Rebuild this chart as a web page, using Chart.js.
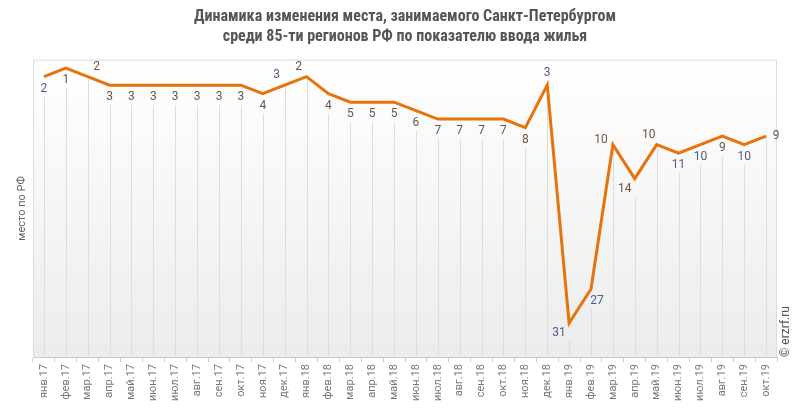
<!DOCTYPE html>
<html>
<head>
<meta charset="utf-8">
<script src="https://cdn.jsdelivr.net/npm/chart.js@4/dist/chart.umd.min.js"></script>
<style>
  html, body { margin: 0; padding: 0; background: #fff; }
  #wrap { width: 793px; height: 415px; position: relative; }
</style>
</head>
<body>
<div id="wrap"><canvas id="placeChart"></canvas></div>
<script>
// months, Jan 2017 - Oct 2019
var months = ["янв.17", "фев.17", "мар.17", "апр.17", "май.17", "июн.17", "июл.17", "авг.17", "сен.17", "окт.17", "ноя.17", "дек.17",
  "янв.18", "фев.18", "мар.18", "апр.18", "май.18", "июн.18", "июл.18", "авг.18", "сен.18", "окт.18", "ноя.18", "дек.18",
  "янв.19", "фев.19", "мар.19", "апр.19", "май.19", "июн.19", "июл.19", "авг.19", "сен.19", "окт.19"];

// place of St. Petersburg among 85 regions
var places = [2, 1, 2, 3, 3, 3, 3, 3, 3, 3, 4, 3,
  2, 4, 5, 5, 5, 6, 7, 7, 7, 7, 8, 3,
  31, 27, 10, 14, 10, 11, 10, 9, 10, 9];

var titleLines = ["Динамика изменения места, занимаемого Санкт-Петербургом", "среди 85-ти регионов РФ по показателю ввода жилья"];
var yTitle = "место по РФ";

// where each value label sits relative to its point (b = below, a = above, l/r = side)
var labelPos = ["b", "b", "ar", "b", "b", "b", "b", "b", "b", "b", "b", "al",
  "al", "b", "b", "b", "b", "b", "b", "b", "b", "b", "b", "a",
  "bl", "br", "l", "bl", "al", "b", "b", "b", "b", "r"];
var blueLabels = [0, 11, 23, 24, 25, 29, 30, 32];

var lineColor = "#e8720c";

// gradient background + frame of the plot area + y title
var plotBg = {
  id: "plotBg",
  beforeDraw: function (chart) {
    var a = chart.chartArea, ctx = chart.ctx;
    var g = ctx.createLinearGradient(0, a.top, 0, a.bottom);
    g.addColorStop(0, "#ffffff");
    g.addColorStop(1, "#ececec");
    ctx.save();
    ctx.fillStyle = g;
    ctx.fillRect(a.left, a.top, a.right - a.left, a.bottom - a.top);
    ctx.strokeStyle = "#dcdcdc";
    ctx.lineWidth = 1;
    ctx.strokeRect(a.left + 0.5, a.top + 0.5, a.right - a.left - 1, a.bottom - a.top);
    ctx.restore();

    ctx.save();
    ctx.translate(22, (a.top + a.bottom) / 2);
    ctx.rotate(-Math.PI / 2);
    ctx.font = "11px Roboto";
    ctx.fillStyle = "#666";
    ctx.textAlign = "center";
    ctx.textBaseline = "middle";
    ctx.fillText(yTitle, 0, 0);
    ctx.restore();
  }
};

function labelXY(p, pos) {
  var x = p.x, y = p.y;
  if (pos === "b") y += 12;
  if (pos === "a") y -= 12;
  if (pos === "ar") { x += 9; y -= 10; }
  if (pos === "al") { x -= 8; y -= 10; }
  if (pos === "bl") { x -= 10; y += 10; }
  if (pos === "br") { x += 6; y += 12; }
  if (pos === "l") { x -= 12; y -= 5; }
  if (pos === "r") { x += 10; }
  return { x: x, y: y };
}

// drop lines under the points
var dropLines = {
  id: "dropLines",
  beforeDatasetsDraw: function (chart) {
    var ctx = chart.ctx, a = chart.chartArea;
    var pts = chart.getDatasetMeta(0).data;
    ctx.save();
    ctx.strokeStyle = "#dddddd";
    ctx.lineWidth = 1;
    pts.forEach(function (p, i) {
      var pos = labelPos[i];
      var start = p.y;
      if (pos === "b" || pos === "br" || pos === "bl") start = labelXY(p, pos).y + 8;
      var x = Math.round(p.x) + 0.5;
      ctx.beginPath();
      ctx.moveTo(x, start);
      ctx.lineTo(x, a.bottom);
      ctx.stroke();
    });
    ctx.restore();
  }
};

// value labels and copyright
var valueLabels = {
  id: "valueLabels",
  afterDatasetsDraw: function (chart) {
    var ctx = chart.ctx, a = chart.chartArea;
    var pts = chart.getDatasetMeta(0).data;
    ctx.save();
    ctx.font = "12px Roboto";
    ctx.textAlign = "center";
    ctx.textBaseline = "middle";
    pts.forEach(function (p, i) {
      var q = labelXY(p, labelPos[i]);
      ctx.fillStyle = blueLabels.indexOf(i) >= 0 ? "#4a5f8a" : "#6a5548";
      ctx.fillText(String(places[i]), q.x, q.y);
    });
    ctx.restore();

    ctx.save();
    ctx.translate(786, a.bottom);
    ctx.rotate(-Math.PI / 2);
    ctx.font = "12px Roboto";
    ctx.fillStyle = "#555";
    ctx.textAlign = "left";
    ctx.textBaseline = "middle";
    ctx.fillText("© erzrf.ru", 0, 0);
    ctx.restore();
  }
};

var ctx = document.getElementById("placeChart").getContext("2d");

var placeChart = new Chart(ctx, {
  type: "line",
  data: {
    labels: months,
    datasets: [
      {
        label: "место",
        data: places,
        borderColor: lineColor,
        borderWidth: 3,
        pointRadius: 0,
        fill: false,
        tension: 0
      }
    ]
  },
  options: {
    responsive: true,
    maintainAspectRatio: false,
    animation: false,
    layout: { padding: { left: 33, right: 16, top: 0, bottom: 12 } },
    plugins: {
      legend: { display: false },
      tooltip: { enabled: false },
      title: {
        display: true,
        text: titleLines,
        color: "#555",
        font: { family: "'Roboto Condensed', 'Liberation Sans Narrow', 'DejaVu Sans Condensed', Roboto", size: 16, weight: "bold", lineHeight: 1.27 },
        padding: { top: 7, bottom: 12 }
      }
    },
    scales: {
      x: {
        offset: true,
        grid: { display: true, drawOnChartArea: false, color: "#cccccc", tickLength: 5, offset: true },
        border: { display: true, color: "#cccccc" },
        ticks: { color: "#777", font: { family: "Roboto", size: 11 }, minRotation: 90, maxRotation: 90, autoSkip: false, padding: 2 }
      },
      y: {
        display: false,
        reverse: true,
        min: 0,
        max: 35
      }
    }
  },
  plugins: [plotBg, dropLines, valueLabels]
});
</script>
</body>
</html>
